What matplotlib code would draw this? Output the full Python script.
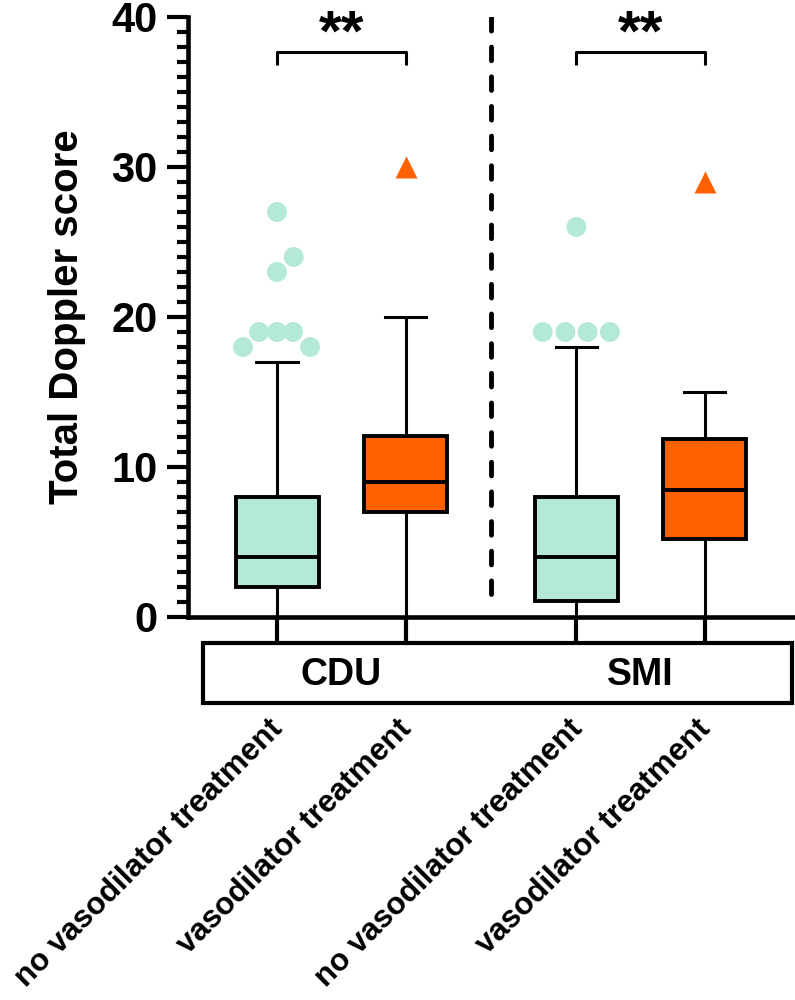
import matplotlib
matplotlib.use('Agg')
import matplotlib.pyplot as plt
import matplotlib.transforms as mtransforms
from matplotlib.patches import Rectangle

plt.rcParams['font.family'] = ['Liberation Sans', 'DejaVu Sans']
plt.rcParams['font.weight'] = 'bold'
plt.rcParams['axes.labelweight'] = 'bold'

# data
groups = ['no vasodilator treatment', 'vasodilator treatment',
          'no vasodilator treatment', 'vasodilator treatment']
methods = ['CDU', 'SMI']
whislo = [0, 0, 0, 0]
q1 = [2, 7, 1.1, 5.2]
med = [4, 9, 4, 8.5]
q3 = [8, 12.1, 8, 11.9]
whishi = [17, 20, 18, 15]
cdu_no_out = [18, 18, 19, 19, 19, 23, 24, 27]
smi_no_out = [19, 19, 19, 19, 26]
cdu_vaso_out = [30]
smi_vaso_out = [29]
signif = ['**', '**']

# layout
pos = [0, 1, 2.33, 3.33]
cdu_no_dx = [-0.265, 0.257, -0.14, 0, 0.125, 0, 0.13, 0]
smi_no_dx = [-0.262, -0.086, 0.087, 0.261, 0]
mint = '#b4e9d6'
orange = '#ff6100'
colors = [mint, orange, mint, orange]

fig = plt.figure(figsize=(7.95, 10), dpi=100)
ax = fig.add_axes([0.2365, 0.383, 0.7635, 0.6])

stats = []
for i in range(4):
    stats.append({'whislo': whislo[i], 'q1': q1[i], 'med': med[i],
                  'q3': q3[i], 'whishi': whishi[i], 'fliers': []})

bp = ax.bxp(stats, positions=pos, widths=0.646, capwidths=0.32,
            patch_artist=True, showfliers=False,
            boxprops=dict(linewidth=2.8, edgecolor='black'),
            whiskerprops=dict(linewidth=2.2, color='black'),
            capprops=dict(linewidth=2.2, color='black'),
            medianprops=dict(linewidth=2.8, color='black'))
for patch, c in zip(bp['boxes'], colors):
    patch.set_facecolor(c)

# outliers
ax.scatter([pos[0] + d for d in cdu_no_dx], cdu_no_out, s=205, color=mint,
           edgecolors='none', zorder=3)
ax.scatter([pos[2] + d for d in smi_no_dx], smi_no_out, s=205, color=mint,
           edgecolors='none', zorder=3)
ax.plot([pos[1]] * len(cdu_vaso_out), cdu_vaso_out, '^', ms=16, color=orange,
        mec='none', zorder=3)
ax.plot([pos[3]] * len(smi_vaso_out), smi_vaso_out, '^', ms=16, color=orange,
        mec='none', zorder=3)

# significance brackets
for k in range(2):
    x1, x2 = pos[2 * k], pos[2 * k + 1]
    ax.plot([x1, x1, x2, x2], [36.8, 37.65, 37.65, 36.8], color='black',
            lw=2.2, solid_capstyle='butt')
    ax.text((x1 + x2) / 2, 37.75, signif[k], ha='center', va='baseline',
            fontsize=42)

# dashed separator
ax.plot([(pos[1] + pos[2]) / 2] * 2, [40, 1], color='black', lw=3.5,
        linestyle=(0, (2.8, 3.3)), dash_capstyle='round')

ax.set_ylim(0, 40)
ax.set_xlim(-0.6926, 4.031)
ax.set_yticks([0, 10, 20, 30, 40])
ax.set_yticks(range(0, 41), minor=True)
ax.tick_params(axis='y', which='major', length=15, width=3, labelsize=30, pad=7)
ax.tick_params(axis='y', which='minor', length=8, width=3)
ax.set_ylabel('Total Doppler score', fontsize=29, fontweight='bold', labelpad=18)

ax.set_xticks(pos)
ax.set_xticklabels(groups, rotation=45, ha='right', rotation_mode='anchor',
                   fontsize=22.5)
ax.tick_params(axis='x', length=19, width=3, pad=51)
off = mtransforms.ScaledTranslation(-0.09, 0, fig.dpi_scale_trans)
for lab in ax.get_xticklabels():
    lab.set_transform(lab.get_transform() + off)

for s in ['top', 'right']:
    ax.spines[s].set_visible(False)
ax.spines['left'].set_linewidth(3.3)
ax.spines['bottom'].set_linewidth(3.3)

# method box under the axis
ax.add_patch(Rectangle((-0.576, -5.73), 4.584, 4.0, fill=False, lw=3,
                       edgecolor='black', clip_on=False))
for k in range(2):
    ax.text((pos[2 * k] + pos[2 * k + 1]) / 2, -3.85, methods[k], ha='center',
            va='center', fontsize=27, clip_on=False)

fig.savefig('out.png', dpi=100)
